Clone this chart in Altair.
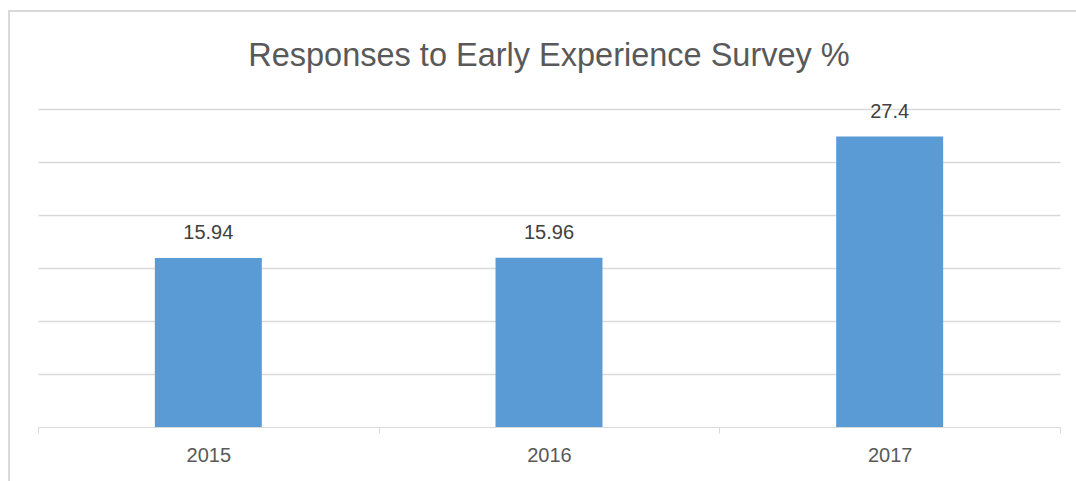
import altair as alt
import pandas as pd

years = ["2015", "2016", "2017"]
values = [15.94, 15.96, 27.4]
labels = ["15.94", "15.96", "27.4"]
title_text = ["Responses to Early Experience Survey %"]

df = pd.DataFrame({"year": years, "value": values, "label": labels})
tdf = pd.DataFrame({"t": title_text})

FONT = "Liberation Sans"
W, H = 1022, 318

x_enc = alt.X("year:N", sort=years,
              scale=alt.Scale(paddingInner=0, paddingOuter=0),
              axis=alt.Axis(title=None, labelAngle=0, labelFont=FONT, labelFontSize=20,
                            labelColor="#595959", labelPadding=12, tickBand="extent",
                            domainColor="#d9d9d9", tickColor="#d9d9d9", tickSize=6,
                            grid=False))
y_enc = alt.Y("value:Q", scale=alt.Scale(domain=[0, 30], nice=False),
              axis=alt.Axis(title=None, labels=False, ticks=False, domain=False,
                            values=[5, 10, 15, 20, 25, 30], gridColor="#d9d9d9",
                            gridWidth=1.3))

frame = alt.Chart(df).mark_rect(filled=False, stroke="#d9d9d9", strokeWidth=1.5).encode(
    x=alt.value(-29), x2=alt.value(W + 200), y=alt.value(-98), y2=alt.value(H + 200)
)

title = alt.Chart(tdf).mark_text(font=FONT, fontSize=32.5, color="#595959",
                                 baseline="alphabetic", align="center").encode(
    x=alt.value(W / 2), y=alt.value(-43), text="t:N"
)

bars = alt.Chart(df).mark_bar(color="#5b9bd5", width=alt.RelativeBandSize(0.314)).encode(
    x=x_enc, y=y_enc
)

text = alt.Chart(df).mark_text(font=FONT, fontSize=20, color="#404040",
                               baseline="alphabetic", dy=-19).encode(
    x=alt.X("year:N", sort=years), y=alt.Y("value:Q"), text="label:N"
)

chart = alt.layer(bars, text, frame, title).properties(
    width=W, height=H,
    background="white",
    autosize=alt.AutoSizeParams(type="none"),
    padding={"left": 38, "top": 109, "right": 16, "bottom": 54},
).configure_view(strokeWidth=0, stroke="transparent")

chart.save("out.html", embed_options={"renderer": "svg", "actions": False})
